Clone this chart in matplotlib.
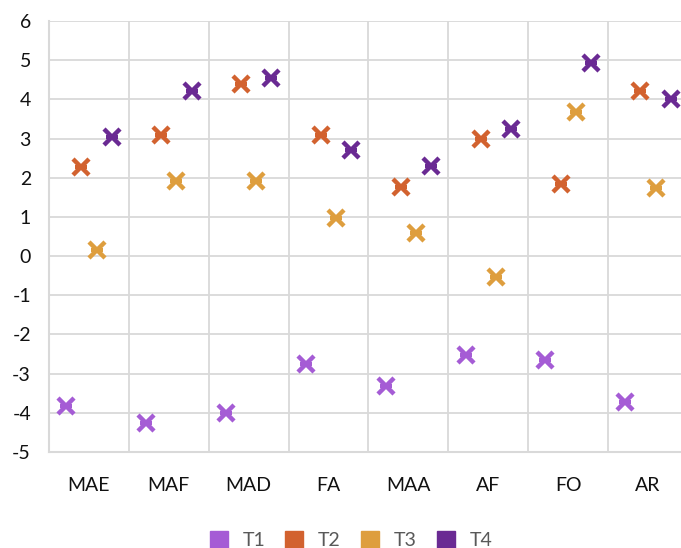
import matplotlib
matplotlib.use("Agg")
import matplotlib.pyplot as plt
from matplotlib.lines import Line2D
import numpy as np

categories = ["MAE", "MAF", "MAD", "FA", "MAA", "AF", "FO", "AR"]
series_names = ["T1", "T2", "T3", "T4"]
t1 = [-3.83, -4.27, -4.01, -2.76, -3.32, -2.53, -2.64, -3.72]
t2 = [2.28, 3.10, 4.40, 3.09, 1.77, 3.00, 1.85, 4.21]
t3 = [0.15, 1.91, 1.91, 0.96, 0.58, -0.54, 3.67, 1.74]
t4 = [3.03, 4.21, 4.55, 2.70, 2.30, 3.24, 4.92, 4.00]
y_ticks = list(range(-5, 7))

colors = ["#A55CD5", "#D2622F", "#DE9E3E", "#6A2A93"]
offsets = [-0.285, -0.095, 0.095, 0.285]

fig = plt.figure(figsize=(6.81, 5.48), dpi=100)
ax = fig.add_axes([49 / 681, 96 / 548, 639 / 681, 431 / 548])

x = np.arange(len(categories))
for vals, col, off in zip([t1, t2, t3, t4], colors, offsets):
    ax.plot(x + off, vals, linestyle="none", marker="x", markersize=12,
            markeredgewidth=3.2, color=col, zorder=3)
    ax.plot(x + off, vals, linestyle="none", marker="_", markersize=8,
            markeredgewidth=3.0, color=col, zorder=3)

ax.set_xlim(-0.5, len(categories) - 0.5)
ax.set_ylim(-5, 6)
ax.set_yticks(y_ticks)
ax.set_yticklabels([str(v) for v in y_ticks])
ax.set_xticks(x)
ax.set_xticklabels(categories)
ax.set_xticks(np.arange(-0.5, len(categories) + 0.5, 1), minor=True)

grid_col = "#D9D9D9"
ax.grid(axis="y", which="major", color=grid_col, linewidth=1.3, zorder=0)
ax.grid(axis="x", which="minor", color=grid_col, linewidth=1.3, zorder=0)
ax.grid(axis="x", which="major", visible=False)
for side in ["top", "right"]:
    ax.spines[side].set_visible(False)
for side in ["left", "bottom"]:
    ax.spines[side].set_color(grid_col)
    ax.spines[side].set_linewidth(1.5)

ax.tick_params(axis="both", which="both", length=0)
ax.tick_params(axis="y", pad=13, labelsize=14, labelcolor="#111111")
ax.tick_params(axis="x", pad=18, labelsize=14, labelcolor="#111111")
for lab in ax.get_xticklabels() + ax.get_yticklabels():
    lab.set_fontfamily("Lato")

handles = [Line2D([], [], linestyle="none", marker="s", markersize=13,
                  markerfacecolor=c, markeredgecolor=c) for c in colors]
fig.legend(handles, series_names, loc="center left",
           bbox_to_anchor=(209 / 681, 7 / 548), borderaxespad=0, borderpad=0,
           ncol=4, frameon=False, handlelength=1.0, handletextpad=0.72,
           columnspacing=1.0, prop={"family": "Lato", "size": 14},
           labelcolor="#595959")

fig.savefig("out.png", dpi=100)
